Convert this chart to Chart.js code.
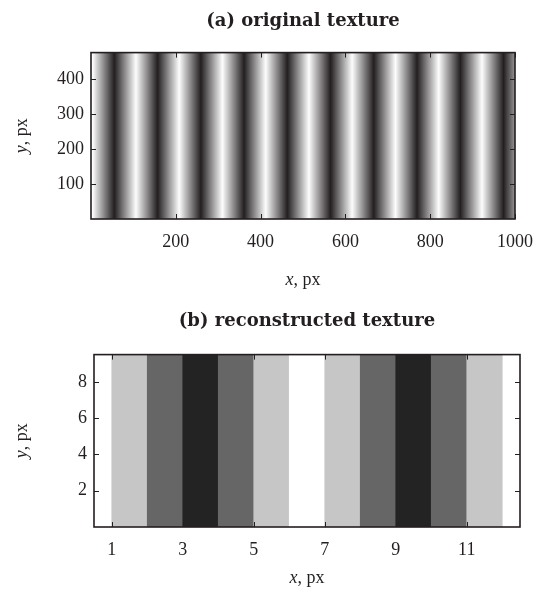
<!DOCTYPE html>
<html>
<head>
<meta charset="utf-8">
<script src="https://cdn.jsdelivr.net/npm/chart.js@4.4.1/dist/chart.umd.min.js"></script>
<style>
  html, body { margin: 0; padding: 0; background: #fff; }
  .panel { position: absolute; left: 0; width: 536px; }
</style>
</head>
<body>
<div class="panel" style="top:0;height:300px"><canvas id="texA"></canvas></div>
<div class="panel" style="top:300px;height:297px"><canvas id="texB"></canvas></div>
<script>
// (a) original texture, size in px and stripe centres
const origWidth = 1000;
const origHeight = 475;
const darkStripes = [55, 157, 259, 361, 463, 565, 667, 769, 871, 973];
const lightStripes = [4, 106, 208, 310, 412, 514, 616, 718, 820, 922, 1024];
const origXTicks = [200, 400, 600, 800, 1000];
const origYTicks = [100, 200, 300, 400];

// (b) reconstructed texture, one cell per pixel column (left edge, grey level)
const cellLeft = [1, 2, 3, 4, 5, 6, 7, 8, 9, 10, 11];
const cellGray = [198, 102, 35, 102, 198, 255, 198, 102, 35, 102, 198];
const reconHeight = 9.5;
const reconXTicks = [1, 3, 5, 7, 9, 11];
const reconYTicks = [2, 4, 6, 8];

const ink = '#231f20';
const serif = "'Liberation Serif', 'DejaVu Serif', serif";
const tickFont = { family: serif, size: 18 };

// frame round the plot with MATLAB style inward ticks on all four sides
const framePlugin = {
  id: 'frame',
  afterDatasetsDraw(chart) {
    const { ctx, chartArea: a, scales } = chart;
    ctx.save();
    ctx.strokeStyle = ink;
    ctx.lineWidth = 1;
    const len = 5;
    scales.x.ticks.forEach(t => {
      const px = Math.round(scales.x.getPixelForValue(t.value)) + 0.5;
      ctx.beginPath();
      ctx.moveTo(px, a.bottom); ctx.lineTo(px, a.bottom - len);
      ctx.moveTo(px, a.top); ctx.lineTo(px, a.top + len);
      ctx.stroke();
    });
    scales.y.ticks.forEach(t => {
      const py = Math.round(scales.y.getPixelForValue(t.value)) + 0.5;
      ctx.beginPath();
      ctx.moveTo(a.left, py); ctx.lineTo(a.left + len, py);
      ctx.moveTo(a.right, py); ctx.lineTo(a.right - len, py);
      ctx.stroke();
    });
    ctx.lineWidth = 1.6;
    ctx.strokeRect(a.left, a.top, a.right - a.left, a.bottom - a.top);
    ctx.restore();
  }
};

// axis titles with italic variable name: "x, px" / "y, px"
function drawLabel(ctx, name, x, y) {
  const rest = ', px';
  ctx.font = `italic 18px ${serif}`;
  const w1 = ctx.measureText(name).width;
  ctx.font = `18px ${serif}`;
  const w2 = ctx.measureText(rest).width;
  const start = x - (w1 + w2) / 2;
  ctx.textBaseline = 'middle';
  ctx.textAlign = 'left';
  ctx.fillStyle = ink;
  ctx.font = `italic 18px ${serif}`;
  ctx.fillText(name, start, y);
  ctx.font = `18px ${serif}`;
  ctx.fillText(rest, start + w1, y);
}

const axisTitlePlugin = {
  id: 'axisTitles',
  afterDraw(chart, args, opts) {
    const { ctx, chartArea: a } = chart;
    ctx.save();
    drawLabel(ctx, 'x', (a.left + a.right) / 2, a.bottom + opts.xGap);
    ctx.translate(a.left - opts.yGap, (a.top + a.bottom) / 2);
    ctx.rotate(-Math.PI / 2);
    drawLabel(ctx, 'y', 0, 0);
    ctx.restore();
  }
};

function axes(xMin, xMax, xTicks, yMax, yTicks, yWidth, xHeight) {
  return {
    x: {
      type: 'linear', min: xMin, max: xMax, offset: false,
      grid: { display: false, drawTicks: false }, border: { display: false },
      afterBuildTicks: s => { s.ticks = xTicks.map(v => ({ value: v })); },
      // fixed height; let the layout padding alone set the side margins
      afterFit: s => { s.height = xHeight; s.paddingLeft = 0; s.paddingRight = 0; },
      ticks: { font: tickFont, color: ink, padding: 12, maxRotation: 0, autoSkip: false,
               callback: v => String(v) }
    },
    y: {
      min: 0, max: yMax,
      grid: { display: false, drawTicks: false }, border: { display: false },
      afterBuildTicks: s => { s.ticks = yTicks.map(v => ({ value: v })); },
      afterFit: s => { s.width = yWidth; },
      ticks: { font: tickFont, color: ink, padding: 7, callback: v => String(v) }
    }
  };
}

function titleOpts(text, top, bottom) {
  return {
    display: true, text: text, fullSize: false, color: ink,
    font: { family: "'DejaVu Serif', serif", size: 18, weight: 'bold' },
    padding: { top: top, bottom: bottom }
  };
}

// sinusoidal grating as a horizontal gradient through the stripe centres
function stripeFill(c) {
  const { chart } = c;
  const { ctx, chartArea, scales } = chart;
  if (!chartArea) return '#888';
  const x0 = scales.x.getPixelForValue(-100);
  const x1 = scales.x.getPixelForValue(origWidth + 100);
  const g = ctx.createLinearGradient(x0, 0, x1, 0);
  const stops = darkStripes.map(v => [v, ink]).concat(lightStripes.map(v => [v, '#fdfdfd']));
  stops.sort((p, q) => p[0] - q[0]);
  stops.forEach(([v, col]) => g.addColorStop((scales.x.getPixelForValue(v) - x0) / (x1 - x0), col));
  return g;
}

new Chart(document.getElementById('texA'), {
  type: 'line',
  data: {
    datasets: [{
      data: [{ x: 0, y: origHeight }, { x: origWidth, y: origHeight }],
      fill: 'origin',
      backgroundColor: stripeFill,
      borderWidth: 0,
      pointRadius: 0
    }]
  },
  options: {
    responsive: true,
    maintainAspectRatio: false,
    animation: false,
    layout: { padding: { left: 0, right: 21, top: 0, bottom: 0 } },
    plugins: {
      legend: { display: false },
      tooltip: { enabled: false },
      title: titleOpts('(a) original texture', 11, 20),
      axisTitles: { xGap: 61, yGap: 69 }
    },
    scales: axes(0, origWidth, origXTicks, origHeight, origYTicks, 91, 81)
  },
  plugins: [framePlugin, axisTitlePlugin]
});

new Chart(document.getElementById('texB'), {
  type: 'bar',
  data: {
    datasets: [{
      data: cellLeft.map(v => ({ x: v + 0.5, y: reconHeight })),
      backgroundColor: cellGray.map(g => `rgb(${g},${g},${g})`),
      borderWidth: 0,
      categoryPercentage: 1,
      barPercentage: 1
    }]
  },
  options: {
    responsive: true,
    maintainAspectRatio: false,
    animation: false,
    layout: { padding: { left: 0, right: 16, top: 0, bottom: 0 } },
    plugins: {
      legend: { display: false },
      tooltip: { enabled: false },
      title: titleOpts('(b) reconstructed texture', 11, 22),
      axisTitles: { xGap: 51, yGap: 72 }
    },
    scales: axes(0.5, 12.5, reconXTicks, reconHeight, reconYTicks, 94, 70)
  },
  plugins: [framePlugin, axisTitlePlugin]
});
</script>
</body>
</html>
